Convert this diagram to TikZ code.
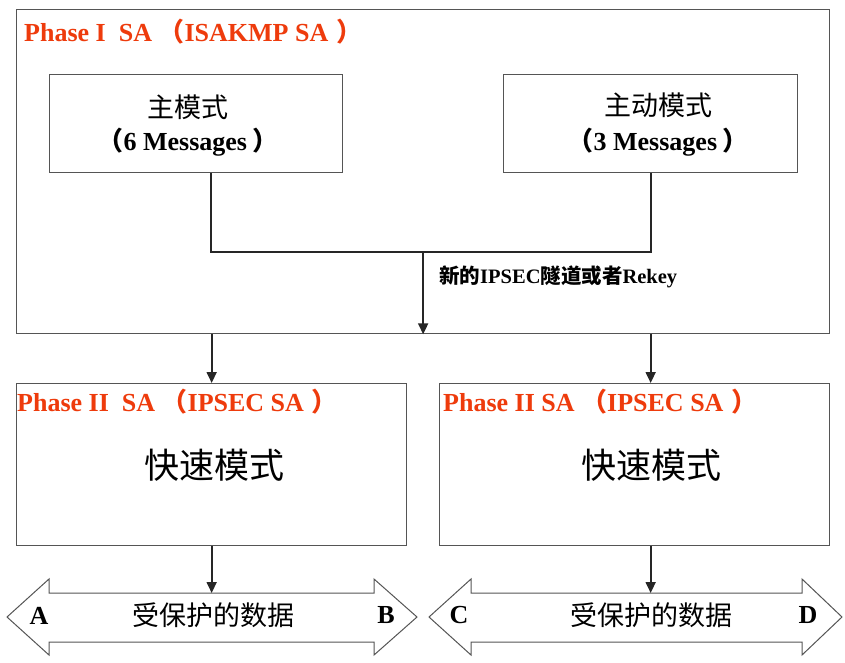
\documentclass[tikz,border=0pt]{standalone}
\usepackage{fontspec}
\setmainfont{Liberation Serif}
\newfontfamily\cjk{Noto Sans CJK SC}
\usetikzlibrary{arrows.meta,calc}
\definecolor{frame}{HTML}{555555}
\definecolor{titlered}{HTML}{EE3B0C}
\newcommand{\lpar}{\hspace{0.25em}{\cjk （}}
\newcommand{\rpar}{\hspace{0.3em}{\cjk ）}}
\begin{document}
\begin{tikzpicture}[x=1pt,y=-1pt,
  box/.style={draw=frame,line width=1.3pt,inner sep=0pt,anchor=north west,fill=white},
  conn/.style={draw=black!85,line width=1.8pt},
  arr/.style={draw=black!85,line width=1.8pt,-{Triangle[length=11pt,width=10pt]}},
  title/.style={anchor=west,text=titlered,inner sep=0pt,font=\bfseries\fontsize{26}{26}\selectfont},
  cn/.style={inner sep=0pt,font=\cjk\fontsize{#1}{#1}\selectfont},
  en/.style={inner sep=0pt,font=\bfseries\fontsize{#1}{#1}\selectfont},
  darrow/.style={draw=frame,line width=1pt,fill=white}]
\useasboundingbox (0,0) rectangle (845,662);
% outer Phase I box
\node[box,minimum width=813pt,minimum height=324pt] (outer) at (16,9) {};
\node[title] (t1) at (24,32) {Phase I\ \ SA\lpar ISAKMP SA\rpar};
% mode boxes
\node[box,minimum width=293pt,minimum height=98pt] (mm) at (49,74) {};
\node[box,minimum width=294pt,minimum height=98pt] (am) at (503,74) {};
\node[cn=27] (mm1) at (188,107) {主模式};
\node[en=26] (mm2) at (188,142) {{\cjk （}6 Messages\hspace{0.2em}{\cjk ）}};
\node[cn=27] (am1) at (658,105) {主动模式};
\node[en=26] (am2) at (658,142) {{\cjk （}3 Messages\hspace{0.2em}{\cjk ）}};
% join
\coordinate (jl) at (211,252);
\coordinate (jr) at (am.south |- jl);
\coordinate (jm) at (outer.south |- jl);
\draw[conn] ($(mm.south west)!(jl)!(mm.south east)$) -- (jl) -- (jr) -- (am.south);
\draw[arr] (jm) -- (outer.south);
\node[anchor=west,inner sep=0pt,font=\bfseries\fontsize{20.5}{20.5}\selectfont] (lab) at (439,277) {{\cjk 新的}IPSEC{\cjk 隧道或者}Rekey};
% Phase II boxes
\node[box,minimum width=390pt,minimum height=162pt] (p2l) at (16,383) {};
\node[box,minimum width=390pt,minimum height=162pt] (p2r) at (439,383) {};
\node[title] (t2l) at (17,402) {Phase II\ \ SA\lpar IPSEC SA\rpar};
\node[title] (t2r) at (443,402) {Phase II SA\lpar IPSEC SA\rpar};
\node[cn=35] (q1) at (214,465) {快速模式};
\node[cn=35] (q2) at (651,465) {快速模式};
\draw[arr] (outer.south -| p2l.north) -- (p2l.north);
\draw[arr] (outer.south -| am.south) -- (p2r.north -| am.south);
% double arrows
\draw[darrow] (7,617) -- (49,579) -- (49,593) -- (374,593) -- (374,579) -- (417,617)
  -- (374,655) -- (374,642) -- (49,642) -- (49,655) -- cycle;
\draw[darrow] (429,617) -- (471,579) -- (471,593) -- (802,593) -- (802,579) -- (842,617)
  -- (802,655) -- (802,642) -- (471,642) -- (471,655) -- cycle;
\coordinate (d1) at (p2l.south |- 0,593);
\coordinate (d2) at (am.south |- 0,593);
\draw[arr] (p2l.south) -- (d1);
\draw[arr] (p2r.south -| d2) -- (d2);
\node[en=26] (A) at (39,616) {A};
\node[en=26] (B) at (386,615) {B};
\node[en=26] (C) at (459,615) {C};
\node[en=26] (D) at (808,615) {D};
\node[cn=27] (dl) at (213,615) {受保护的数据};
\node[cn=27] (dr) at (651,615) {受保护的数据};
\end{tikzpicture}
\end{document}
